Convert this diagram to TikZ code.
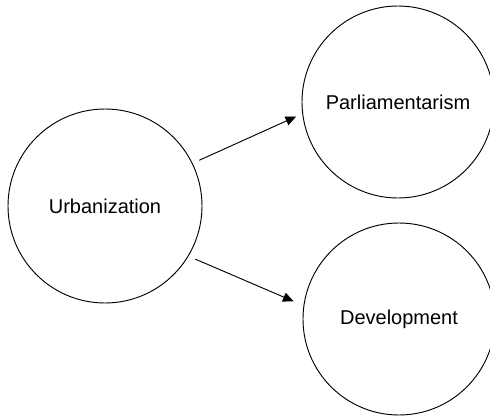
\documentclass[tikz,border=0pt]{standalone}
\usepackage{fontspec}
\setmainfont{Liberation Sans}
\usetikzlibrary{arrows.meta}
\begin{document}
\begin{tikzpicture}[x=0.75pt,y=-0.75pt,
  bubble/.style={draw=black,line width=0.7pt,circle,inner sep=0pt,font=\fontsize{15}{18}\selectfont},
  arr/.style={draw=black,line width=0.7pt,-{Triangle[length=8pt,width=7pt]}}]
\useasboundingbox (0,0) rectangle (490,418);
\node[bubble,minimum size=145.5pt] (u) at (105,206) {Urbanization};
\node[bubble,minimum size=144pt] (p) at (398,102) {Parliamentarism};
\node[bubble,minimum size=144pt] (d) at (399,319) {Development};
\draw[arr,shorten <=5.5pt,shorten >=5pt] (u.26) -- (p.187);
\draw[arr,shorten <=5.5pt,shorten >=8pt] (u.-31) -- (d.172);
\end{tikzpicture}
\end{document}
